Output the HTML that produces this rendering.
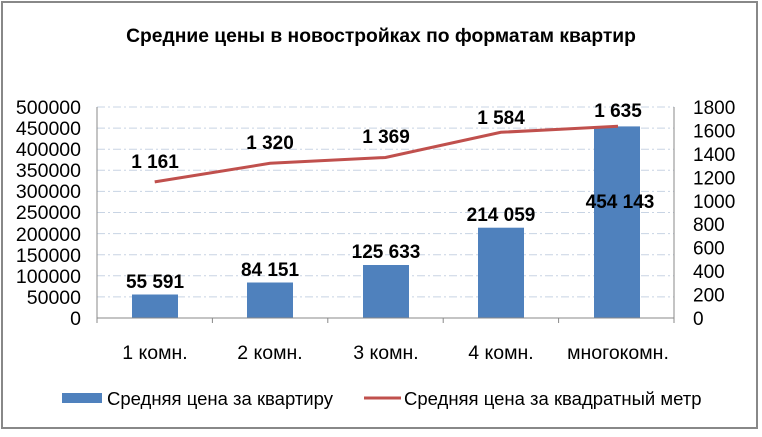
<!DOCTYPE html><html><head><meta charset="utf-8"><style>body{margin:0;background:#fff}</style></head><body>
<svg width="762" height="432" xmlns="http://www.w3.org/2000/svg" font-family="Liberation Sans, sans-serif">
<rect x="0" y="0" width="762" height="432" fill="#fff"/>
<rect x="2" y="2" width="755" height="426" fill="none" stroke="#888" stroke-width="2"/>
<text x="381" y="42" text-anchor="middle" font-size="19.3" font-weight="bold">Средние цены в новостройках по форматам квартир</text>
<g stroke="#c8d4e4" stroke-dasharray="8,3,2,3" stroke-width="1">
<line x1="97" x2="674" y1="107" y2="107"/><line x1="97" x2="674" y1="128.1" y2="128.1"/><line x1="97" x2="674" y1="149.2" y2="149.2"/><line x1="97" x2="674" y1="170.3" y2="170.3"/><line x1="97" x2="674" y1="191.4" y2="191.4"/><line x1="97" x2="674" y1="212.5" y2="212.5"/><line x1="97" x2="674" y1="233.6" y2="233.6"/><line x1="97" x2="674" y1="254.7" y2="254.7"/><line x1="97" x2="674" y1="275.8" y2="275.8"/><line x1="97" x2="674" y1="296.9" y2="296.9"/>
</g>
<g fill="#4f81bd">
<rect x="132" y="294.5" width="46" height="23.5"/>
<rect x="247" y="282.5" width="46" height="35.5"/>
<rect x="363" y="265" width="46" height="53"/>
<rect x="478" y="227.7" width="46" height="90.3"/>
<rect x="594" y="126.4" width="46" height="191.6"/>
</g>
<g stroke="#888" stroke-width="1" fill="none">
<line x1="97" y1="107" x2="97" y2="318"/><line x1="674" y1="107" x2="674" y2="318"/>
<line x1="97" y1="318" x2="674" y2="318"/>
<line x1="97" y1="318" x2="97" y2="323"/><line x1="212.4" y1="318" x2="212.4" y2="323"/><line x1="327.8" y1="318" x2="327.8" y2="323"/><line x1="443.2" y1="318" x2="443.2" y2="323"/><line x1="558.6" y1="318" x2="558.6" y2="323"/><line x1="674" y1="318" x2="674" y2="323"/>
</g>
<polyline points="154.7,181.9 270.1,163.3 385.5,157.5 500.9,132.3 618,126.3" fill="none" stroke="#c0504d" stroke-width="3"/>
<g font-size="19.5" fill="#000" text-anchor="end">
<text x="81" y="114">500000</text><text x="81" y="135">450000</text><text x="81" y="156">400000</text><text x="81" y="177">350000</text><text x="81" y="198">300000</text><text x="81" y="219">250000</text><text x="81" y="241">200000</text><text x="81" y="262">150000</text><text x="81" y="283">100000</text><text x="81" y="304">50000</text><text x="81" y="325">0</text>
</g>
<g font-size="19" fill="#000" text-anchor="start">
<text x="693" y="114">1800</text><text x="693" y="137.4">1600</text><text x="693" y="160.9">1400</text><text x="693" y="184.3">1200</text><text x="693" y="207.8">1000</text><text x="693" y="231.2">800</text><text x="693" y="254.7">600</text><text x="693" y="278.1">400</text><text x="693" y="301.6">200</text><text x="693" y="325">0</text>
</g>
<g font-size="19.5" fill="#000" text-anchor="middle">
<text x="155" y="359">1 комн.</text><text x="270" y="359">2 комн.</text><text x="386" y="359">3 комн.</text><text x="501" y="359">4 комн.</text><text x="618" y="359">многокомн.</text>
</g>
<g font-size="19" font-weight="bold" fill="#000" text-anchor="middle">
<text x="155" y="288">55 591</text><text x="270" y="276">84 151</text><text x="386" y="258">125 633</text><text x="501" y="221">214 059</text><text x="620" y="208">454 143</text>
<text x="155" y="168">1 161</text><text x="270" y="149">1 320</text><text x="386" y="143">1 369</text><text x="501" y="124">1 584</text><text x="618" y="117">1 635</text>
</g>
<rect x="62" y="393" width="40" height="10" fill="#4f81bd"/>
<text x="107" y="405" font-size="18.5">Средняя цена за квартиру</text>
<line x1="364" y1="398" x2="401" y2="398" stroke="#c0504d" stroke-width="3"/>
<text x="404" y="405" font-size="18.5">Средняя цена за квадратный метр</text>
</svg>
</body></html>
